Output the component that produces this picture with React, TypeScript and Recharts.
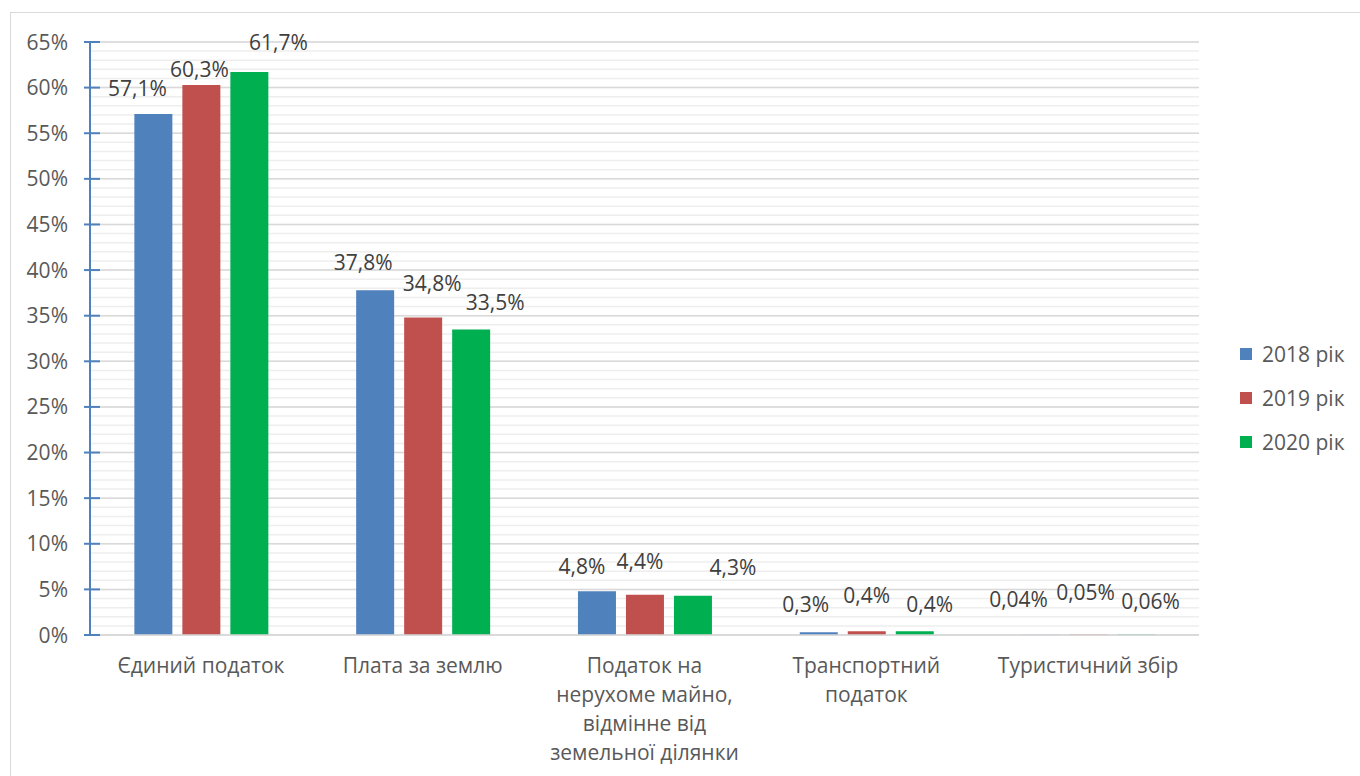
import { Bar, BarChart, CartesianGrid, LabelList, XAxis, YAxis } from 'recharts';

const categories = [
  'Єдиний податок',
  'Плата за землю',
  'Податок на нерухоме майно, відмінне від земельної ділянки',
  'Транспортний податок',
  'Туристичний збір',
];

const values2018 = [57.1, 37.8, 4.8, 0.3, 0.04];
const values2019 = [60.3, 34.8, 4.4, 0.4, 0.05];
const values2020 = [61.7, 33.5, 4.3, 0.4, 0.06];

const yTicks = [0, 5, 10, 15, 20, 25, 30, 35, 40, 45, 50, 55, 60, 65];

// minor grid every 1%
const minorTicks: number[] = [];
for (let i = 0; i <= 65; i++) minorTicks.push(i);

const series = [
  { key: 'y2018', name: '2018 рік', color: '#4F81BD', values: values2018 },
  { key: 'y2019', name: '2019 рік', color: '#C0504D', values: values2019 },
  { key: 'y2020', name: '2020 рік', color: '#00B050', values: values2020 },
];

// hand-placed label nudges, as in the source (dx, dy of label centre from bar top centre)
const labelNudge: Record<string, [number, number][]> = {
  y2018: [[-16, -26], [-12, -28], [-15, -25], [-13, -28], [-22, -35]],
  y2019: [[-2, -15], [9, -34], [-5, -33], [0, -36], [-3, -42]],
  y2020: [[29, -30], [24, -27], [40, -28], [15, -27], [14, -33]],
};

const data = categories.map((name, i) => ({
  name,
  y2018: values2018[i],
  y2019: values2019[i],
  y2020: values2020[i],
}));

const FONT = '"Open Sans", sans-serif';
const FS = 21;

function wrap(text: string, max = 17) {
  const lines: string[] = [];
  let cur = '';
  for (const w of text.split(' ')) {
    if (cur && (cur + ' ' + w).length > max) {
      lines.push(cur);
      cur = w;
    } else {
      cur = cur ? cur + ' ' + w : w;
    }
  }
  if (cur) lines.push(cur);
  return lines;
}

function CategoryTick({ x, y, payload }: any) {
  const lines = wrap(String(payload.value));
  return (
    <text x={x} y={y} textAnchor="middle" fill="#595959" fontSize={FS} fontFamily={FONT}>
      {lines.map((l, i) => (
        <tspan key={i} x={x} dy={i === 0 ? 30 : 29}>
          {l}
        </tspan>
      ))}
    </text>
  );
}

function PercentTick({ x, y, payload }: any) {
  const axisX = x + 22;
  return (
    <g>
      <line x1={axisX - 6} x2={axisX + 10} y1={y} y2={y} stroke="#4F81BD" strokeWidth={2} />
      <text x={x} y={y} dy={7.5} textAnchor="end" fill="#595959" fontSize={FS} fontFamily={FONT}>
        {payload.value}%
      </text>
    </g>
  );
}

function makeLabel(key: string) {
  return (props: any) => {
    const { x, y, width, value, index } = props;
    const [dx, dy] = labelNudge[key][index];
    return (
      <text
        x={x + width / 2 + dx}
        y={y + dy}
        dy={7.5}
        textAnchor="middle"
        fill="#404040"
        fontSize={FS}
        fontFamily={FONT}
      >
        {String(value).replace('.', ',')}%
      </text>
    );
  };
}

export default function App() {
  return (
    <div style={{ position: 'absolute', left: 0, top: 0, width: 1360, height: 776, overflow: 'hidden', background: '#fff' }}>
      <div
        style={{
          position: 'absolute',
          left: 10,
          top: 12,
          width: 1400,
          height: 900,
          border: '1.5px solid #D9D9D9',
        }}
      />
      <div style={{ position: 'absolute', left: 0, top: 0 }}>
        <BarChart
          width={1360}
          height={776}
          data={data}
          margin={{ top: 42, right: 161, bottom: 41, left: 0 }}
          barCategoryGap="20%"
          barGap={10}
        >
          <CartesianGrid vertical={false} horizontalValues={minorTicks} stroke="#EEEEEE" strokeWidth={1.5} />
          <CartesianGrid vertical={false} horizontalValues={yTicks} stroke="#D9D9D9" strokeWidth={1.5} />
          <XAxis
            dataKey="name"
            height={100}
            tickLine={false}
            axisLine={{ stroke: '#D9D9D9', strokeWidth: 1.5 }}
            tick={<CategoryTick />}
            interval={0}
          />
          <YAxis
            width={90}
            domain={[0, 65]}
            ticks={yTicks}
            interval={0}
            tickSize={0}
            tickMargin={22}
            axisLine={{ stroke: '#4F81BD', strokeWidth: 2 }}
            tick={<PercentTick />}
          />
          {series.map((s) => (
            <Bar key={s.key} dataKey={s.key} name={s.name} fill={s.color} isAnimationActive={false}>
              <LabelList dataKey={s.key} content={makeLabel(s.key)} />
            </Bar>
          ))}
        </BarChart>
      </div>
      <div style={{ position: 'absolute', left: 1240, top: 332, fontFamily: FONT, fontSize: FS, color: '#595959' }}>
        {series.map((s) => (
          <div key={s.key} style={{ display: 'flex', alignItems: 'center', height: 44 }}>
            <span style={{ width: 12, height: 12, background: s.color, marginRight: 10 }} />
            {s.name}
          </div>
        ))}
      </div>
    </div>
  );
}
